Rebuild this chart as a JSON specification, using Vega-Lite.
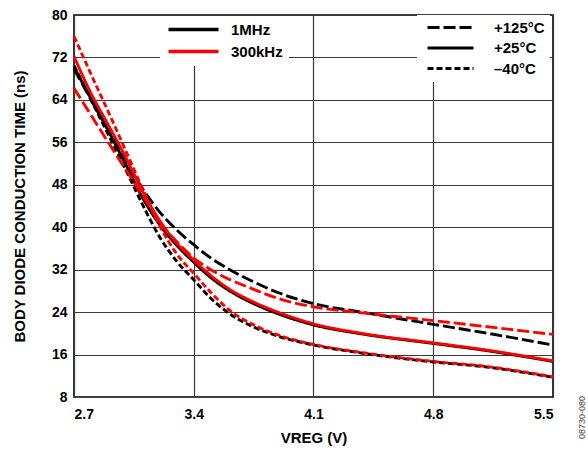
{
  "$schema": "https://vega.github.io/schema/vega-lite/v6.json",
  "width": 479,
  "height": 382,
  "autosize": {"type": "none"},
  "padding": {"left": 74, "top": 15, "right": 35, "bottom": 56},
  "background": "white",
  "title": {"text": "08730-080", "orient": "right", "anchor": "end", "angle": -90, "align": "left", "baseline": "bottom", "fontSize": 9, "fontWeight": "normal", "color": "#444444", "font": "Liberation Sans", "offset": 19, "dx": 6},
  "config": {
    "font": "Liberation Sans",
    "view": {"stroke": "black", "strokeWidth": 1.6},
    "axis": {"domain": false, "ticks": false, "grid": true, "gridColor": "#3a3a3a", "gridWidth": 1.2, "labelFont": "Liberation Sans", "labelFontWeight": "bold", "labelFontSize": 14, "labelColor": "black", "titleFont": "Liberation Sans", "titleFontWeight": "bold", "titleFontSize": 15, "titleColor": "black"}
  },
  "data": {"values": [
    {"f": "1MHz", "temp": "+125°C", "v": 2.7, "t": 69.8}, {"f": "1MHz", "temp": "+125°C", "v": 2.8, "t": 64.0}, {"f": "1MHz", "temp": "+125°C", "v": 2.9, "t": 58.3}, {"f": "1MHz", "temp": "+125°C", "v": 3.0, "t": 52.6}, {"f": "1MHz", "temp": "+125°C", "v": 3.1, "t": 47.3}, {"f": "1MHz", "temp": "+125°C", "v": 3.2, "t": 42.9}, {"f": "1MHz", "temp": "+125°C", "v": 3.3, "t": 39.5}, {"f": "1MHz", "temp": "+125°C", "v": 3.4, "t": 36.7}, {"f": "1MHz", "temp": "+125°C", "v": 3.5, "t": 34.2}, {"f": "1MHz", "temp": "+125°C", "v": 3.6, "t": 32.2}, {"f": "1MHz", "temp": "+125°C", "v": 3.75, "t": 29.7}, {"f": "1MHz", "temp": "+125°C", "v": 3.9, "t": 27.6}, {"f": "1MHz", "temp": "+125°C", "v": 4.1, "t": 25.6}, {"f": "1MHz", "temp": "+125°C", "v": 4.4, "t": 23.9}, {"f": "1MHz", "temp": "+125°C", "v": 4.8, "t": 21.7}, {"f": "1MHz", "temp": "+125°C", "v": 5.1, "t": 20.1}, {"f": "1MHz", "temp": "+125°C", "v": 5.5, "t": 17.8},
    {"f": "1MHz", "temp": "+25°C", "v": 2.7, "t": 70.2}, {"f": "1MHz", "temp": "+25°C", "v": 2.8, "t": 64.2}, {"f": "1MHz", "temp": "+25°C", "v": 2.9, "t": 58.2}, {"f": "1MHz", "temp": "+25°C", "v": 3.0, "t": 52.0}, {"f": "1MHz", "temp": "+25°C", "v": 3.1, "t": 45.6}, {"f": "1MHz", "temp": "+25°C", "v": 3.2, "t": 40.5}, {"f": "1MHz", "temp": "+25°C", "v": 3.3, "t": 36.6}, {"f": "1MHz", "temp": "+25°C", "v": 3.4, "t": 33.4}, {"f": "1MHz", "temp": "+25°C", "v": 3.5, "t": 30.5}, {"f": "1MHz", "temp": "+25°C", "v": 3.6, "t": 28.2}, {"f": "1MHz", "temp": "+25°C", "v": 3.75, "t": 25.6}, {"f": "1MHz", "temp": "+25°C", "v": 3.9, "t": 23.6}, {"f": "1MHz", "temp": "+25°C", "v": 4.1, "t": 21.6}, {"f": "1MHz", "temp": "+25°C", "v": 4.4, "t": 19.8}, {"f": "1MHz", "temp": "+25°C", "v": 4.8, "t": 18.1}, {"f": "1MHz", "temp": "+25°C", "v": 5.1, "t": 16.8}, {"f": "1MHz", "temp": "+25°C", "v": 5.5, "t": 14.7},
    {"f": "1MHz", "temp": "–40°C", "v": 2.7, "t": 70.5}, {"f": "1MHz", "temp": "–40°C", "v": 2.8, "t": 64.0}, {"f": "1MHz", "temp": "–40°C", "v": 2.9, "t": 57.5}, {"f": "1MHz", "temp": "–40°C", "v": 3.0, "t": 51.0}, {"f": "1MHz", "temp": "–40°C", "v": 3.1, "t": 44.3}, {"f": "1MHz", "temp": "–40°C", "v": 3.2, "t": 38.2}, {"f": "1MHz", "temp": "–40°C", "v": 3.3, "t": 33.6}, {"f": "1MHz", "temp": "–40°C", "v": 3.4, "t": 30.1}, {"f": "1MHz", "temp": "–40°C", "v": 3.5, "t": 26.6}, {"f": "1MHz", "temp": "–40°C", "v": 3.6, "t": 23.9}, {"f": "1MHz", "temp": "–40°C", "v": 3.75, "t": 21.2}, {"f": "1MHz", "temp": "–40°C", "v": 3.9, "t": 19.4}, {"f": "1MHz", "temp": "–40°C", "v": 4.1, "t": 17.8}, {"f": "1MHz", "temp": "–40°C", "v": 4.4, "t": 16.2}, {"f": "1MHz", "temp": "–40°C", "v": 4.8, "t": 14.6}, {"f": "1MHz", "temp": "–40°C", "v": 5.1, "t": 13.7}, {"f": "1MHz", "temp": "–40°C", "v": 5.5, "t": 11.7},
    {"f": "300kHz", "temp": "+125°C", "v": 2.7, "t": 66.2}, {"f": "300kHz", "temp": "+125°C", "v": 2.8, "t": 61.1}, {"f": "300kHz", "temp": "+125°C", "v": 2.9, "t": 56.0}, {"f": "300kHz", "temp": "+125°C", "v": 3.0, "t": 51.0}, {"f": "300kHz", "temp": "+125°C", "v": 3.1, "t": 46.0}, {"f": "300kHz", "temp": "+125°C", "v": 3.2, "t": 41.0}, {"f": "300kHz", "temp": "+125°C", "v": 3.3, "t": 37.3}, {"f": "300kHz", "temp": "+125°C", "v": 3.4, "t": 34.2}, {"f": "300kHz", "temp": "+125°C", "v": 3.5, "t": 32.0}, {"f": "300kHz", "temp": "+125°C", "v": 3.6, "t": 30.3}, {"f": "300kHz", "temp": "+125°C", "v": 3.75, "t": 28.3}, {"f": "300kHz", "temp": "+125°C", "v": 3.9, "t": 26.5}, {"f": "300kHz", "temp": "+125°C", "v": 4.1, "t": 25.0}, {"f": "300kHz", "temp": "+125°C", "v": 4.4, "t": 23.8}, {"f": "300kHz", "temp": "+125°C", "v": 4.8, "t": 22.4}, {"f": "300kHz", "temp": "+125°C", "v": 5.1, "t": 21.3}, {"f": "300kHz", "temp": "+125°C", "v": 5.5, "t": 19.8},
    {"f": "300kHz", "temp": "+25°C", "v": 2.7, "t": 72.2}, {"f": "300kHz", "temp": "+25°C", "v": 2.8, "t": 65.2}, {"f": "300kHz", "temp": "+25°C", "v": 2.9, "t": 59.3}, {"f": "300kHz", "temp": "+25°C", "v": 3.0, "t": 53.3}, {"f": "300kHz", "temp": "+25°C", "v": 3.1, "t": 46.8}, {"f": "300kHz", "temp": "+25°C", "v": 3.2, "t": 41.3}, {"f": "300kHz", "temp": "+25°C", "v": 3.3, "t": 37.0}, {"f": "300kHz", "temp": "+25°C", "v": 3.4, "t": 33.8}, {"f": "300kHz", "temp": "+25°C", "v": 3.5, "t": 30.9}, {"f": "300kHz", "temp": "+25°C", "v": 3.6, "t": 28.5}, {"f": "300kHz", "temp": "+25°C", "v": 3.75, "t": 25.9}, {"f": "300kHz", "temp": "+25°C", "v": 3.9, "t": 23.9}, {"f": "300kHz", "temp": "+25°C", "v": 4.1, "t": 21.8}, {"f": "300kHz", "temp": "+25°C", "v": 4.4, "t": 19.9}, {"f": "300kHz", "temp": "+25°C", "v": 4.8, "t": 18.2}, {"f": "300kHz", "temp": "+25°C", "v": 5.1, "t": 16.9}, {"f": "300kHz", "temp": "+25°C", "v": 5.5, "t": 14.8},
    {"f": "300kHz", "temp": "–40°C", "v": 2.7, "t": 76.0}, {"f": "300kHz", "temp": "–40°C", "v": 2.8, "t": 68.8}, {"f": "300kHz", "temp": "–40°C", "v": 2.9, "t": 61.8}, {"f": "300kHz", "temp": "–40°C", "v": 3.0, "t": 54.6}, {"f": "300kHz", "temp": "–40°C", "v": 3.1, "t": 47.3}, {"f": "300kHz", "temp": "–40°C", "v": 3.2, "t": 40.3}, {"f": "300kHz", "temp": "–40°C", "v": 3.3, "t": 35.0}, {"f": "300kHz", "temp": "–40°C", "v": 3.4, "t": 31.3}, {"f": "300kHz", "temp": "–40°C", "v": 3.5, "t": 27.7}, {"f": "300kHz", "temp": "–40°C", "v": 3.6, "t": 24.6}, {"f": "300kHz", "temp": "–40°C", "v": 3.75, "t": 21.6}, {"f": "300kHz", "temp": "–40°C", "v": 3.9, "t": 19.6}, {"f": "300kHz", "temp": "–40°C", "v": 4.1, "t": 17.9}, {"f": "300kHz", "temp": "–40°C", "v": 4.4, "t": 16.3}, {"f": "300kHz", "temp": "–40°C", "v": 4.8, "t": 14.7}, {"f": "300kHz", "temp": "–40°C", "v": 5.1, "t": 13.8}, {"f": "300kHz", "temp": "–40°C", "v": 5.5, "t": 11.8}
  ]},
  "encoding": {
    "x": {"field": "v", "type": "quantitative", "scale": {"domain": [2.7, 5.5], "nice": false, "zero": false}, "axis": {"values": [2.7, 3.4, 4.1, 4.8, 5.5], "format": ".1f", "title": "VREG (V)", "labelPadding": 10, "titlePadding": 9}},
    "y": {"field": "t", "type": "quantitative", "scale": {"domain": [8, 80], "nice": false, "zero": false}, "axis": {"values": [8, 16, 24, 32, 40, 48, 56, 64, 72, 80], "title": "BODY DIODE CONDUCTION TIME (ns)", "labelPadding": 7, "titlePadding": 24}},
    "color": {"field": "f", "type": "nominal", "scale": {"domain": ["1MHz", "300kHz"], "range": ["#000000", "#ff0000"]}, "legend": {"title": null, "orient": "none", "legendX": 86, "legendY": 1, "fillColor": "white", "padding": 6, "symbolType": "M-5,0H5", "symbolSize": 100, "symbolStrokeWidth": 3.5, "symbolOffset": 20, "labelFont": "Liberation Sans", "labelFontSize": 15, "labelFontWeight": "bold", "labelColor": "black", "labelOffset": 30, "rowPadding": 6}},
    "strokeDash": {"field": "temp", "type": "nominal", "scale": {"domain": ["+125°C", "+25°C", "–40°C"], "range": [[12, 4], [1, 0], [6, 3]]}, "legend": {"title": null, "orient": "none", "legendX": 343, "legendY": 0, "fillColor": "white", "padding": 5, "symbolType": "M-4.6,0H4.6", "symbolSize": 100, "symbolStrokeWidth": 3, "symbolStrokeColor": "black", "symbolOffset": 21, "labelFont": "Liberation Sans", "labelFontSize": 15, "labelFontWeight": "bold", "labelColor": "black", "labelOffset": 36, "rowPadding": 4.5}}
  },
  "layer": [
    {"transform": [{"filter": "datum.f === '1MHz'"}], "mark": {"type": "line", "strokeWidth": 2.9, "interpolate": "monotone"}},
    {"transform": [{"filter": "datum.f === '300kHz'"}], "mark": {"type": "line", "strokeWidth": 2.9, "interpolate": "monotone"}}
  ]
}
